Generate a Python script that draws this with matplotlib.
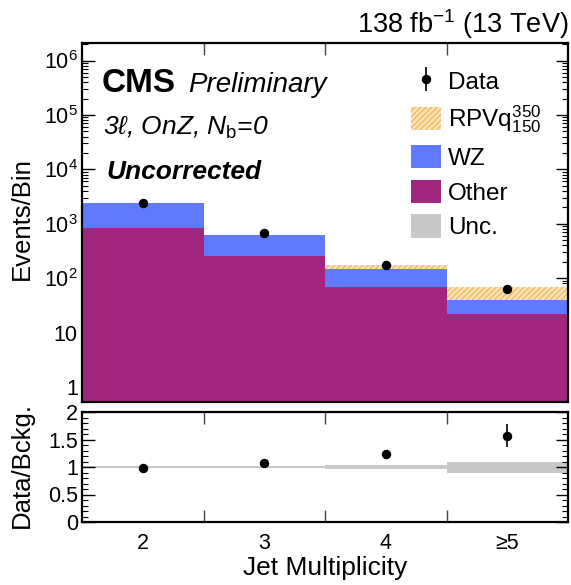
import numpy as np
import matplotlib
matplotlib.use("Agg")
import matplotlib.pyplot as plt
from matplotlib.patches import Patch
from matplotlib.ticker import FixedLocator, NullFormatter, LogLocator, MultipleLocator

plt.rcParams['font.family'] = ['Liberation Sans', 'DejaVu Sans']
plt.rcParams['mathtext.fontset'] = 'custom'
plt.rcParams['mathtext.rm'] = 'Liberation Sans'
plt.rcParams['mathtext.it'] = 'Liberation Sans:italic'
plt.rcParams['mathtext.bf'] = 'Liberation Sans:bold'
plt.rcParams['hatch.linewidth'] = 0.6

# ---- data ----
categories = ["2", "3", "4", "\u22655"]
other = [848, 251, 68, 22]
wz = [1600, 370, 77, 17.5]
signal = [1.5, 4, 26, 29]
data = [2400, 670, 178, 62]
ratio_err = [0.02, 0.04, 0.09, 0.21]
unc_rel = [0.01, 0.017, 0.04, 0.10]

col_other = '#a2267f'
col_wz = '#5f7afe'
col_sig_face = '#fbe2b4'
col_sig_hatch = '#f0a437'
col_unc = '#c8c8c8'

x = np.arange(2, 2 + len(categories))
edges = np.arange(1.5, 2 + len(categories), 1.0)
other_a = np.array(other, float)
wz_a = np.array(wz, float)
sig_a = np.array(signal, float)
data_a = np.array(data, float)
bkg = other_a + wz_a
ratio = data_a / bkg

W, H = 571, 585
fig = plt.figure(figsize=(W / 100, H / 100), dpi=100)
# axes placed from pixel measurements (left, top, right, bottom)
def px_axes(l, t, r, b):
    return fig.add_axes([l / W, 1 - b / H, (r - l) / W, (b - t) / H])
ax = px_axes(82, 43, 568, 402)
rax = px_axes(82, 412, 568, 522)

# main stack
ax.bar(x, other_a, width=1.0, bottom=1e-3, color=col_other, linewidth=0, zorder=2)
ax.bar(x, wz_a, width=1.0, bottom=other_a, color=col_wz, linewidth=0, zorder=2)
ax.bar(x, sig_a, width=1.0, bottom=bkg, facecolor=col_sig_face, edgecolor=col_sig_hatch,
       hatch='//////', linewidth=0, zorder=2)
data_h = ax.errorbar(x, data_a, yerr=np.sqrt(data_a), fmt='o', color='black', ms=5.8,
                     elinewidth=1.2, capsize=0, zorder=5)

ax.set_yscale('log')
ax.set_xlim(1.5, 5.5)
ax.set_ylim(0.53, 2.1e6)
ax.yaxis.set_major_locator(FixedLocator([1, 10, 1e2, 1e3, 1e4, 1e5, 1e6]))
ax.set_yticklabels(['1', '10', r'$10^{2}$', r'$10^{3}$', r'$10^{4}$', r'$10^{5}$', r'$10^{6}$'])
ax.yaxis.set_minor_locator(LogLocator(base=10, subs=np.arange(2, 10), numticks=20))
ax.yaxis.set_minor_formatter(NullFormatter())
ax.set_ylabel('Events/Bin', fontsize=18.5, va='center')
ax.yaxis.set_label_coords((22 - 82) / 486, 0.51)

for a in (ax, rax):
    a.set_xlim(1.5, 5.5)
    a.set_xticks(edges[1:-1])
    a.set_xticks(x, minor=True)
    a.tick_params(axis='x', which='major', direction='in', top=True, bottom=True,
                  length=8.5, width=1.0, color='#444444', labelbottom=False)
    a.tick_params(axis='x', which='minor', length=0, labelbottom=False)
    a.tick_params(axis='y', which='major', direction='in', left=True, right=True,
                  length=9, width=1.0, labelsize=15.5, pad=3)
    a.tick_params(axis='y', which='minor', direction='in', left=True, right=True,
                  length=4.5, width=0.8)
    for s in a.spines.values():
        s.set_linewidth(1.6)

rax.set_xticklabels(categories, minor=True)
rax.tick_params(axis='x', which='minor', labelbottom=True, labelsize=15.5, pad=8)

# ratio panel
lo = np.concatenate([1 - np.array(unc_rel), [1 - unc_rel[-1]]])
hi = np.concatenate([1 + np.array(unc_rel), [1 + unc_rel[-1]]])
rax.fill_between(edges, lo, hi, step='post', color=col_unc, linewidth=0, zorder=1)
rax.errorbar(x, ratio, yerr=ratio_err, fmt='o', color='black', ms=5.8,
             elinewidth=1.2, capsize=0, zorder=5)
rax.set_ylim(0, 2)
rax.yaxis.set_major_locator(FixedLocator([0, 0.5, 1, 1.5, 2]))
rax.set_yticklabels(['0', '0.5', '1', '1.5', '2'])
rax.yaxis.set_minor_locator(MultipleLocator(0.1))
rax.set_ylabel('Data/Bckg.', fontsize=18.5, va='center')
rax.yaxis.set_label_coords((22 - 82) / 486, (522 - 465) / 110)
rax.set_xlabel('Jet Multiplicity', fontsize=19)
rax.xaxis.set_label_coords(0.5, -53 / 110)
rax.xaxis.label.set_va('baseline')

# texts (positions in axes fraction from pixel measurements)
def fx(px):
    return (px - 82) / 486
def fy(py):
    return (402 - py) / 359
ax.text(fx(102), fy(92), 'CMS', transform=ax.transAxes, fontsize=24, fontweight='bold',
        va='baseline')
ax.text(fx(188), fy(92), 'Preliminary', transform=ax.transAxes, fontsize=20, style='italic',
        va='baseline')
ax.text(fx(103), fy(135), r'3ℓ, OnZ, $N_{\mathrm{b}}$=0', transform=ax.transAxes, fontsize=19,
        style='italic', va='baseline')
ax.text(fx(106), fy(179), 'Uncorrected', transform=ax.transAxes, fontsize=19, style='italic',
        fontweight='bold', va='baseline')
fig.text(568 / W, 1 - 33 / H, r'138 fb$^{-1}$ (13 TeV)', ha='right', va='baseline',
         fontsize=19.5)

handles = [
    data_h,
    Patch(facecolor=col_sig_face, edgecolor=col_sig_hatch, hatch='//////', linewidth=0),
    Patch(facecolor=col_wz, linewidth=0),
    Patch(facecolor=col_other, linewidth=0),
    Patch(facecolor=col_unc, linewidth=0),
]
labels = ['Data', r'RPVq$^{350}_{150}$', 'WZ', 'Other', 'Unc.']
ax.legend(handles, labels, loc='upper left', bbox_to_anchor=(fx(411), fy(69)), frameon=False,
          fontsize=17.5, handlelength=1.25, handleheight=1.1, handletextpad=0.28,
          labelspacing=0.40, borderaxespad=0, borderpad=0)

fig.savefig('out.png', dpi=100)
